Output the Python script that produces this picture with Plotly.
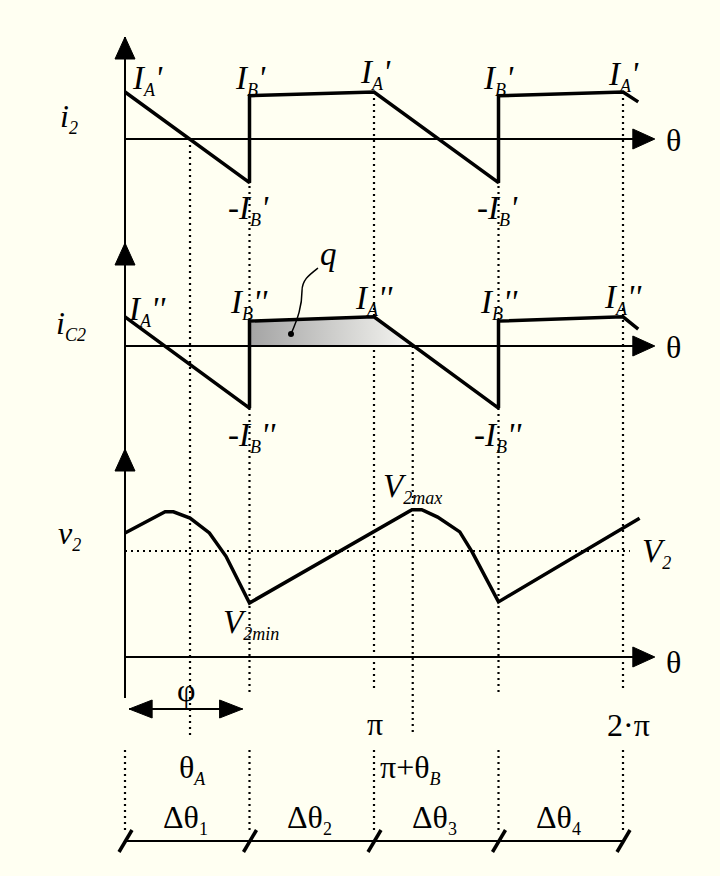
import plotly.graph_objects as go

W, H = 720, 876
BG = "#fffff2"
FONT = "Liberation Serif"
INK = "black"

# ---- data -------------------------------------------------------------
# marked angles (degrees)
theta_A = 47          # zero crossing of i2
theta_B = 28          # zero crossing of iC2 after pi
quarters = [0, 90, 180, 270, 360]

# transformer secondary current i2 (normalised to I_A')
theta_i2 = [0, 90, 90, 180, 270, 270, 360, 371]
i2 = [1.0, -0.93, 0.92, 1.0, -0.93, 0.92, 1.0, 0.79]

# capacitor current iC2 (same current scale)
theta_ic2 = [0, 90, 90, 180, 270, 270, 360, 371]
ic2 = [0.62, -1.32, 0.53, 0.62, -1.32, 0.53, 0.62, 0.36]

# capacitor voltage v2 (normalised to its mean V2)
theta_v2 = [0, 29, 35, 47, 61, 73, 90, 207.5, 214.5, 226, 242, 251, 270, 372]
v2 = [1.17, 1.37, 1.37, 1.31, 1.17, 0.95, 0.51, 1.39, 1.39, 1.32, 1.18, 0.99, 0.52, 1.31]
V2_mean = 1.0

interval_subs = ["1", "2", "3", "4"]

# ---- geometry helpers ----------------------------------------------------
X0_PX = 125                    # pixel column of theta = 0
PX_PER_DEG = 249 / 180
AXIS_END = 383                 # theta where the horizontal arrows end


def xpx(px):
    return px / W


def ypx(py):
    return 1 - py / H


def yrange(base_px, px_per_unit):
    return [(base_px - H) / px_per_unit, base_px / px_per_unit]


fig = go.Figure()

# charge q : area under the positive part of iC2 after the step
zc = theta_ic2[3] + (theta_ic2[4] - theta_ic2[3]) * ic2[3] / (ic2[3] - ic2[4])
fig.add_trace(go.Scatter(
    x=[theta_ic2[2], theta_ic2[2], theta_ic2[3], zc, theta_ic2[2]],
    y=[0, ic2[2], ic2[3], 0, 0],
    yaxis="y2", mode="lines", line=dict(width=0), fill="toself",
    fillgradient=dict(type="horizontal",
                      colorscale=[[0, "#a4a4a4"], [1, "#f6f6f2"]]),
    hoverinfo="skip", showlegend=False))

wave = dict(color=INK, width=3.5)
fig.add_trace(go.Scatter(x=theta_i2, y=i2, mode="lines", line=wave,
                         yaxis="y", showlegend=False))
fig.add_trace(go.Scatter(x=theta_ic2, y=ic2, mode="lines", line=wave,
                         yaxis="y2", showlegend=False))
fig.add_trace(go.Scatter(x=theta_v2, y=v2, mode="lines", line=wave,
                         yaxis="y3", showlegend=False))

shapes = []
dot = dict(color=INK, width=2.2, dash="2px,4px")

# dotted guide lines (theta, top pixel, bottom pixel)
guides = [
    (theta_A, 139, 738),
    (90, 96, 695), (180, 92, 690), (180 + theta_B, 346, 732),
    (270, 96, 695), (360, 92, 690),
] + [(q, 750, 833) for q in quarters]
for th, top, bot in guides:
    shapes.append(dict(type="line", xref="x", yref="paper", x0=th, x1=th,
                       y0=ypx(top), y1=ypx(bot), line=dot, layer="below"))

# mean value of v2
shapes.append(dict(type="line", xref="x", yref="y3", x0=0, x1=365,
                   y0=V2_mean, y1=V2_mean, line=dot, layer="below"))

# common vertical axis
shapes.append(dict(type="line", xref="x", yref="paper", x0=0, x1=0,
                   y0=ypx(37), y1=ypx(698), line=dict(color=INK, width=2)))
for tip in (37, 243, 449):
    shapes.append(dict(type="path", xref="x", yref="paper",
                       xsizemode="pixel", ysizemode="pixel",
                       xanchor=0, yanchor=ypx(tip),
                       path="M 0 0 L -10 -22 L 10 -22 Z",
                       fillcolor=INK, line=dict(color=INK, width=1)))

# horizontal theta axes
for yr_ in ("y", "y2", "y3"):
    shapes.append(dict(type="line", xref="x", yref=yr_, x0=0, x1=AXIS_END - 5,
                       y0=0, y1=0, line=dict(color=INK, width=2)))
    shapes.append(dict(type="path", xref="x", yref=yr_,
                       xsizemode="pixel", ysizemode="pixel",
                       xanchor=AXIS_END, yanchor=0,
                       path="M 0 0 L -22 10 L -22 -10 Z",
                       fillcolor=INK, line=dict(color=INK, width=1)))

# phi double arrow
phi_y = ypx(709)
shapes.append(dict(type="line", xref="x", yref="paper",
                   x0=3, x1=85, y0=phi_y, y1=phi_y,
                   line=dict(color=INK, width=2)))
shapes.append(dict(type="path", xref="x", yref="paper",
                   xsizemode="pixel", ysizemode="pixel",
                   xanchor=3, yanchor=phi_y,
                   path="M 0 0 L 23 9 L 23 -9 Z",
                   fillcolor=INK, line=dict(color=INK, width=1)))
shapes.append(dict(type="path", xref="x", yref="paper",
                   xsizemode="pixel", ysizemode="pixel",
                   xanchor=85, yanchor=phi_y,
                   path="M 0 0 L -23 9 L -23 -9 Z",
                   fillcolor=INK, line=dict(color=INK, width=1)))

# interval dimension line with slashes
dim_y = ypx(841)
shapes.append(dict(type="line", xref="x", yref="paper", x0=0, x1=360,
                   y0=dim_y, y1=dim_y, line=dict(color=INK, width=2)))
for q in quarters:
    shapes.append(dict(type="line", xref="x", yref="paper",
                       xsizemode="pixel", ysizemode="pixel",
                       xanchor=q, yanchor=dim_y,
                       x0=-6, x1=7, y0=-11, y1=11,
                       line=dict(color=INK, width=3.5)))

# leader line for q


def P(px, py):
    return f"{xpx(px):.5f},{ypx(py):.5f}"


leader = (f"M {P(318, 268)} C {P(309, 275)} {P(302, 280)} {P(302, 291)} "
          f"C {P(302, 306)} {P(298, 318)} {P(291, 334)}")
shapes.append(dict(type="path", xref="paper", yref="paper", path=leader,
                   line=dict(color=INK, width=1.5)))
shapes.append(dict(type="circle", xref="paper", yref="paper",
                   x0=xpx(288), x1=xpx(294), y0=ypx(331), y1=ypx(337),
                   fillcolor=INK, line=dict(color=INK, width=0)))

# ---- text ----------------------------------------------------------------
annotations = []
BIG = 33
SUB = 18


def sub(t, size=SUB):
    return f"<sub><span style='font-size:{size}px'>{t}</span></sub>"


def label(text, px, py, size=BIG, xanchor="left"):
    annotations.append(dict(text=text, x=xpx(px), y=ypx(py), xref="paper",
                            yref="paper", showarrow=False, xanchor=xanchor,
                            yanchor="middle",
                            font=dict(family=FONT, size=size, color=INK)))


IA1 = f"<i>I{sub('A')}'</i>"
IB1 = f"<i>I{sub('B')}'</i>"
mIB1 = f"<i>-I{sub('B')}'</i>"
IA2 = f"<i>I{sub('A')}''</i>"
IB2 = f"<i>I{sub('B')}''</i>"
mIB2 = f"<i>-I{sub('B')}''</i>"

# panel names
label(f"<i>i{sub('2')}</i>", 58, 118, size=32)
label(f"<i>i{sub('C2')}</i>", 54, 325, size=32)
label(f"<i>v{sub('2')}</i>", 56, 535, size=32)

# theta at the axis ends
for yy in (140, 347, 662):
    label("θ", 673, yy, xanchor="center", size=32)

# i2 panel
label(IA1, 130, 80)
label(IB1, 233, 80)
label(IA1, 358, 74)
label(mIB1, 226, 210)
label(IB1, 481, 80)
label(IA1, 606, 76)
label(mIB1, 475, 210)

# iC2 panel
label(IA2, 126, 311)
label(IB2, 228, 304)
label(IA2, 353, 300)
label(mIB2, 226, 437)
label(IB2, 478, 304)
label(IA2, 602, 299)
label(mIB2, 472, 437)
label("<i>q</i>", 328, 254, xanchor="center")

# v2 panel
label(f"<i>V{sub('2max')}</i>", 381, 488)
label(f"<i>V{sub('2min')}</i>", 221, 624)
label(f"<i>V{sub('2')}</i>", 640, 553)

# angle labels
label("φ", 186, 690, xanchor="center", size=32)
label("π", 375, 724, xanchor="center", size=32)
label("2·π", 628, 725, xanchor="center", size=32)
label(f"θ<i>{sub('A')}</i>", 177, 769, size=32)
label(f"π+θ<i>{sub('B')}</i>", 378, 769, size=32)
for k, s in enumerate(interval_subs):
    mid = (quarters[k] + quarters[k + 1]) / 2
    label(f"Δθ{sub(s)}", X0_PX + mid * PX_PER_DEG - 2, 819,
          xanchor="center", size=32)

fig.update_layout(
    width=W, height=H,
    margin=dict(l=0, r=0, t=0, b=0),
    paper_bgcolor=BG, plot_bgcolor=BG,
    showlegend=False,
    xaxis=dict(range=[-X0_PX / PX_PER_DEG, (W - X0_PX) / PX_PER_DEG],
               visible=False, fixedrange=True),
    yaxis=dict(range=yrange(139, 47), visible=False, fixedrange=True),
    yaxis2=dict(range=yrange(346, 47), visible=False, overlaying="y",
                fixedrange=True),
    yaxis3=dict(range=yrange(657, 106), visible=False, overlaying="y",
                fixedrange=True),
    shapes=shapes,
    annotations=annotations,
)

fig.write_html("out.html")
